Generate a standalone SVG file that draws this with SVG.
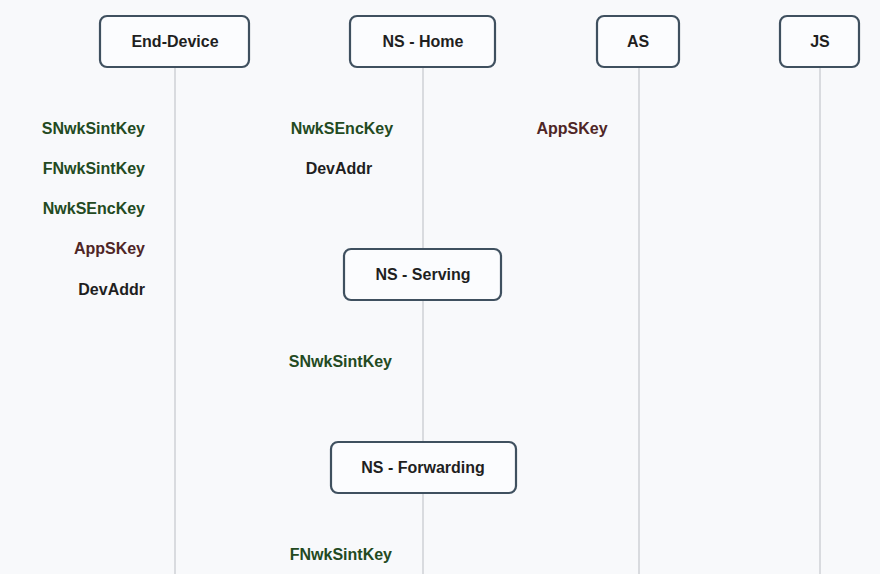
<svg xmlns="http://www.w3.org/2000/svg" width="880" height="574" viewBox="0 0 880 574">
  <style>
    .bg { fill: #f8f9fb; }
    .life { stroke: #d9dbdf; stroke-width: 2; fill: none; }
    .box { fill: #fbfcfe; stroke: #3f505f; stroke-width: 2.2; }
    .title { font-family: "Liberation Sans", Arial, sans-serif; font-size: 16px; font-weight: bold; fill: #1f1f1f; text-anchor: middle; }
    .key { font-family: "Liberation Sans", Arial, sans-serif; font-size: 16px; font-weight: bold; }
    .nwk { fill: #234a22; }
    .app { fill: #4f2626; }
    .addr { fill: #1f1f1f; }
    .r { text-anchor: end; }
    .m { text-anchor: middle; }
  </style>
  <rect class="bg" x="0" y="0" width="880" height="574"/>

  <!-- lifelines -->
  <g id="connectors">
    <line class="life" x1="175" y1="68" x2="175" y2="574"/>
    <line class="life" x1="423" y1="68" x2="423" y2="574"/>
    <line class="life" x1="639" y1="68" x2="639" y2="574"/>
    <line class="life" x1="820" y1="68" x2="820" y2="574"/>
  </g>

  <!-- participants -->
  <g id="end-device">
    <rect class="box" x="100" y="16" width="149" height="51" rx="7"/>
    <text class="title" x="175" y="47">End-Device</text>
  </g>
  <g id="ns-home">
    <rect class="box" x="350" y="16" width="145" height="51" rx="7"/>
    <text class="title" x="423" y="47">NS - Home</text>
  </g>
  <g id="as">
    <rect class="box" x="597" y="16" width="82" height="51" rx="7"/>
    <text class="title" x="638" y="47">AS</text>
  </g>
  <g id="js">
    <rect class="box" x="780" y="16" width="79" height="51" rx="7"/>
    <text class="title" x="820" y="47">JS</text>
  </g>
  <g id="ns-serving">
    <rect class="box" x="344" y="249" width="157" height="51" rx="7"/>
    <text class="title" x="423" y="280">NS - Serving</text>
  </g>
  <g id="ns-forwarding">
    <rect class="box" x="331" y="442" width="185" height="51" rx="7"/>
    <text class="title" x="423" y="473">NS - Forwarding</text>
  </g>

  <!-- keys held by each party -->
  <g id="end-device-keys">
    <text class="key nwk r" x="145" y="134">SNwkSintKey</text>
    <text class="key nwk r" x="145" y="174">FNwkSintKey</text>
    <text class="key nwk r" x="145" y="214">NwkSEncKey</text>
    <text class="key app r" x="145" y="254">AppSKey</text>
    <text class="key addr r" x="145" y="295">DevAddr</text>
  </g>
  <g id="ns-home-keys">
    <text class="key nwk m" x="342" y="134">NwkSEncKey</text>
    <text class="key addr m" x="339" y="174">DevAddr</text>
  </g>
  <g id="as-keys">
    <text class="key app m" x="572" y="134">AppSKey</text>
  </g>
  <g id="ns-serving-keys">
    <text class="key nwk r" x="392" y="367">SNwkSintKey</text>
  </g>
  <g id="ns-forwarding-keys">
    <text class="key nwk r" x="392" y="560">FNwkSintKey</text>
  </g>
</svg>
